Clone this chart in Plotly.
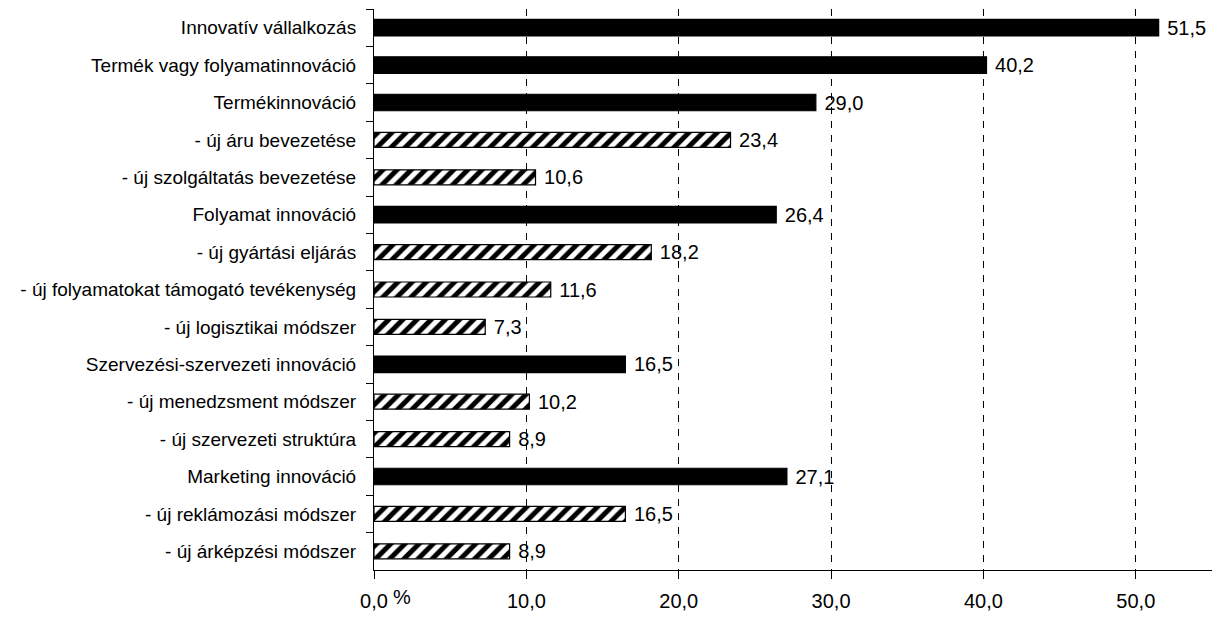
import plotly.graph_objects as go

# Innovation activity shares (%), top to bottom
categories = [
    "Innovatív vállalkozás",
    "Termék vagy folyamatinnováció",
    "Termékinnováció",
    "- új áru bevezetése",
    "- új szolgáltatás bevezetése",
    "Folyamat innováció",
    "- új gyártási eljárás",
    "- új folyamatokat támogató tevékenység",
    "- új logisztikai módszer",
    "Szervezési-szervezeti innováció",
    "- új menedzsment módszer",
    "- új szervezeti struktúra",
    "Marketing innováció",
    "- új reklámozási módszer",
    "- új árképzési módszer",
]
values = [51.5, 40.2, 29.0, 23.4, 10.6, 26.4, 18.2, 11.6, 7.3, 16.5, 10.2, 8.9, 27.1, 16.5, 8.9]
# "main" = headline category (solid bar), "sub" = sub-item (hatched bar)
kinds = ["main", "main", "main", "sub", "sub", "main", "sub", "sub", "sub",
         "main", "sub", "sub", "main", "sub", "sub"]

x_tick_values = [0, 10, 20, 30, 40, 50]
x_tick_labels = ["0,0", "10,0", "20,0", "30,0", "40,0", "50,0"]

FONT = "Liberation Sans, Arial, sans-serif"


def fmt(v):
    # Hungarian decimal comma, with a small gap before the bar end
    return "\u00a0" + f"{v:.1f}".replace(".", ",")


fig = go.Figure()

for kind in ("main", "sub"):
    xs = [v if k == kind else None for v, k in zip(values, kinds)]
    txt = [fmt(v) if k == kind else "" for v, k in zip(values, kinds)]
    if kind == "main":
        marker = dict(color="black", line=dict(color="black", width=1.2))
        bar_width = 0.44
    else:
        marker = dict(
            color="white",
            line=dict(color="black", width=1.2),
            pattern=dict(shape="/", fgcolor="black", fgopacity=1, bgcolor="white",
                         size=10, solidity=0.5, fillmode="overlay"),
        )
        bar_width = 0.4
    fig.add_trace(
        go.Bar(
            x=xs,
            y=categories,
            orientation="h",
            width=bar_width,
            marker=marker,
            text=txt,
            textposition="outside",
            constraintext="none",
            cliponaxis=False,
            textfont=dict(family=FONT, size=20, color="black"),
            hoverinfo="skip",
        )
    )

fig.update_layout(
    width=1218,
    height=618,
    margin=dict(l=374, r=6, t=9, b=45),
    paper_bgcolor="white",
    plot_bgcolor="white",
    showlegend=False,
    barmode="overlay",
    font=dict(family=FONT, color="black"),
    xaxis=dict(
        range=[0, 55],
        tickvals=x_tick_values,
        ticktext=x_tick_labels,
        tickfont=dict(family=FONT, size=20, color="black"),
        showgrid=True,
        gridcolor="black",
        gridwidth=1,
        griddash="7px,7px",
        zeroline=False,
        showline=True,
        linecolor="black",
        linewidth=1,
        ticks="outside",
        ticklen=8,
        tickcolor="black",
        ticklabelstandoff=5,
        fixedrange=True,
    ),
    yaxis=dict(
        type="category",
        autorange="reversed",
        tickfont=dict(family=FONT, size=19, color="black"),
        showgrid=False,
        showline=True,
        linecolor="black",
        linewidth=1,
        ticks="outside",
        tickson="boundaries",
        ticklen=7,
        tickcolor="black",
        ticklabelstandoff=13,
        fixedrange=True,
    ),
)

# percent sign placed next to the zero tick label
fig.add_annotation(
    text="%", xref="paper", yref="paper", x=0.0, y=0, xanchor="left", yanchor="top",
    xshift=17, yshift=-14, showarrow=False,
    font=dict(family=FONT, size=20, color="black"),
)

fig.write_html("out.html")
